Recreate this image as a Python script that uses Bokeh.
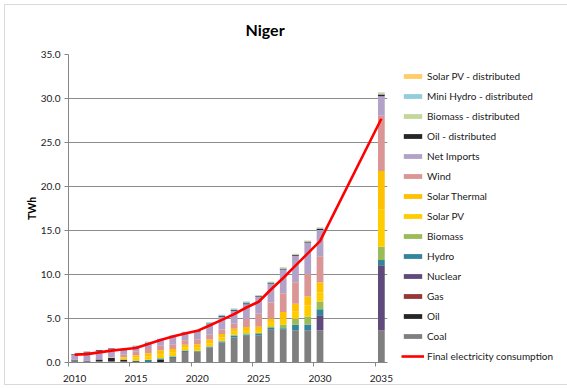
from bokeh.plotting import figure
from bokeh.models import (ColumnDataSource, Legend, LegendItem, FixedTicker,
                          NumeralTickFormatter, Range1d)
from bokeh.embed import file_html
from bokeh.resources import INLINE

years = [2010, 2011, 2012, 2013, 2014, 2015, 2016, 2017, 2018, 2019, 2020,
         2021, 2022, 2023, 2024, 2025, 2026, 2027, 2028, 2029, 2030, 2035]

coal = [0.25, 0.15, 0.15, 0.15, 0.10, 0.05, 0.05, 0.05, 0.50, 1.20, 1.20,
        1.70, 2.27, 2.84, 3.03, 3.10, 3.73, 3.73, 3.66, 3.66, 3.66, 3.65]
oil = [0.05, 0.05, 0.20, 0.35, 0.20, 0.10, 0.02, 0.30, 0.02, 0, 0,
       0, 0, 0, 0, 0, 0, 0, 0, 0, 0, 0]
gas = [0] * 22
nuclear = [0] * 20 + [1.70, 7.40]
hydro = [0, 0, 0, 0, 0.03, 0.05, 0.20, 0.10, 0.15, 0.10, 0.08,
         0.10, 0.12, 0.20, 0.15, 0.15, 0.20, 0.15, 0.64, 0.64, 0.68, 0.60]
biomass = [0, 0, 0, 0, 0, 0.02, 0.03, 0.05, 0.05, 0.08, 0.05,
           0.05, 0.10, 0.15, 0.15, 0.15, 0.20, 0.45, 0.68, 0.94, 0.90, 1.50]
solar_pv = [0, 0, 0, 0.05, 0.20, 0.35, 0.40, 0.45, 0.40, 0.30, 0.35,
            0.35, 0.35, 0.30, 0.35, 0.30, 0.40, 0.70, 0.85, 1.25, 1.05, 4.20]
solar_thermal = [0, 0, 0, 0, 0.10, 0.25, 0.35, 0.45, 0.40, 0.35, 0.40,
                 0.40, 0.40, 0.35, 0.35, 0.35, 0.45, 0.70, 0.85, 1.00, 1.14, 4.40]
wind = [0, 0, 0, 0.05, 0.30, 0.45, 0.60, 0.50, 0.55, 0.50, 0.55,
        0.55, 0.50, 0.55, 0.90, 1.50, 1.85, 2.15, 2.45, 2.57, 2.94, 6.30]
net_imports = [0.60, 0.95, 0.95, 0.90, 0.45, 0.45, 0.50, 0.65, 0.85, 0.80, 0.90,
               1.20, 1.45, 1.50, 1.70, 1.90, 2.10, 2.68, 3.00, 3.58, 3.00, 2.20]
oil_dist = [0.08, 0.07, 0.10, 0.10, 0.07, 0.10, 0.10, 0.07, 0.08, 0.07, 0.07,
            0.07, 0.08, 0.10, 0.10, 0.08, 0.08, 0.08, 0.08, 0.08, 0.10, 0.20]
biomass_dist = [0] * 22
mini_hydro_dist = [0, 0, 0, 0, 0.05, 0.10, 0.10, 0.08, 0.10, 0.10, 0.10,
                   0.15, 0.15, 0.15, 0.20, 0.10, 0.15, 0.15, 0.10, 0.10, 0.15, 0.15]
solar_pv_dist = [0] * 15 + [0.05] * 6 + [0.10]

consumption = [0.90, 0.95, 1.15, 1.35, 1.50, 1.65, 2.10, 2.55, 2.95, 3.30, 3.60,
               4.20, 4.85, 5.50, 6.25, 6.90, 8.30, 9.60, 11.00, 12.40, 13.80, 27.70]

series_names = ["Coal", "Oil", "Gas", "Nuclear", "Hydro", "Biomass", "Solar PV",
                "Solar Thermal", "Wind", "Net Imports", "Oil - distributed",
                "Biomass - distributed", "Mini Hydro - distributed",
                "Solar PV - distributed"]
series_values = [coal, oil, gas, nuclear, hydro, biomass, solar_pv, solar_thermal,
                 wind, net_imports, oil_dist, biomass_dist, mini_hydro_dist,
                 solar_pv_dist]
series_colors = ["#7F7F7F", "#262626", "#953735", "#604A7B", "#31859C", "#9BBB59",
                 "#FFCC00", "#FFC000", "#D99694", "#B3A2C7", "#262626", "#C3D69B",
                 "#93CDDD", "#FFCC66"]

x_label_ticks = [2010, 2015, 2020, 2025, 2030, 2035]
x_mark_ticks = [2009.5, 2014.5, 2019.5, 2024.5, 2029.5, 2034.5]
y_ticks = [0, 5, 10, 15, 20, 25, 30, 35]

data = {"year": years}
keys = []
for i, vals in enumerate(series_values):
    k = "s%d" % i
    keys.append(k)
    data[k] = vals
source = ColumnDataSource(data)

font = "Lato"

p = figure(frame_width=319, frame_height=308, output_backend="svg",
           toolbar_location=None,
           x_range=Range1d(2009.5, 2035.5), y_range=Range1d(0, 35),
           min_border_left=68, min_border_right=179, min_border_top=54,
           min_border_bottom=27, title="Niger")
p.outline_line_color = None
p.background_fill_color = "white"
p.border_fill_alpha = 0
p.styles = {"outline": "1px solid #D9D9D9", "outline-offset": "-5px",
            "background-color": "white"}

p.title.align = "left"
p.title.offset = 177
p.title.text_font = font
p.title.text_font_size = "16px"
p.title.text_font_style = "bold"
p.title.text_color = "#000000"
p.title.standoff = 32

renderers = p.vbar_stack(keys, x="year", width=0.55, source=source,
                         color=series_colors, line_color=None)

line_r = p.line(years, consumption, line_color="#FF0000", line_width=2.6)

# axes
p.xaxis.ticker = FixedTicker(ticks=x_label_ticks, minor_ticks=x_mark_ticks)
p.xaxis.major_tick_out = 0
p.xaxis.major_tick_in = 0
p.xaxis.minor_tick_out = 4
p.xaxis.minor_tick_in = 0
p.xaxis.minor_tick_line_color = "#868686"
p.xaxis.axis_line_color = "#868686"
p.xaxis.major_label_text_font = font
p.xaxis.major_label_text_font_size = "10px"
p.xaxis.major_label_text_color = "#1a1a1a"
p.xaxis.major_label_standoff = 8

p.yaxis.ticker = FixedTicker(ticks=y_ticks)
p.yaxis.formatter = NumeralTickFormatter(format="0.0")
p.yaxis.major_tick_out = 4
p.yaxis.major_tick_in = 0
p.yaxis.minor_tick_out = 0
p.yaxis.minor_tick_in = 0
p.yaxis.major_tick_line_color = "#868686"
p.yaxis.axis_line_color = "#868686"
p.yaxis.major_label_text_font = font
p.yaxis.major_label_text_font_size = "10px"
p.yaxis.major_label_text_color = "#1a1a1a"
p.yaxis.major_label_standoff = 4
p.yaxis.axis_label = "TWh"
p.yaxis.axis_label_text_font = font
p.yaxis.axis_label_text_font_size = "10.5px"
p.yaxis.axis_label_text_font_style = "bold"
p.yaxis.axis_label_text_color = "#000000"
p.yaxis.axis_label_standoff = 0

p.xgrid.grid_line_color = None
p.ygrid.grid_line_color = "#8C8C8C"
p.ygrid.grid_line_width = 1

# legend (reverse stacking order, then the line)
items = []
for name, r in reversed(list(zip(series_names, renderers))):
    items.append(LegendItem(label=name, renderers=[r]))
items.append(LegendItem(label="Final electricity consumption", renderers=[line_r]))

legend = Legend(items=items, location="top_left", orientation="vertical",
                margin=14, padding=0, spacing=5, label_height=15,
                glyph_width=23, glyph_height=6, label_standoff=3,
                label_text_font=font, label_text_font_size="10px",
                label_text_color="#1a1a1a",
                border_line_alpha=0, background_fill_alpha=0)
p.add_layout(legend, "right")

open("out.html", "w").write(file_html(p, INLINE))
